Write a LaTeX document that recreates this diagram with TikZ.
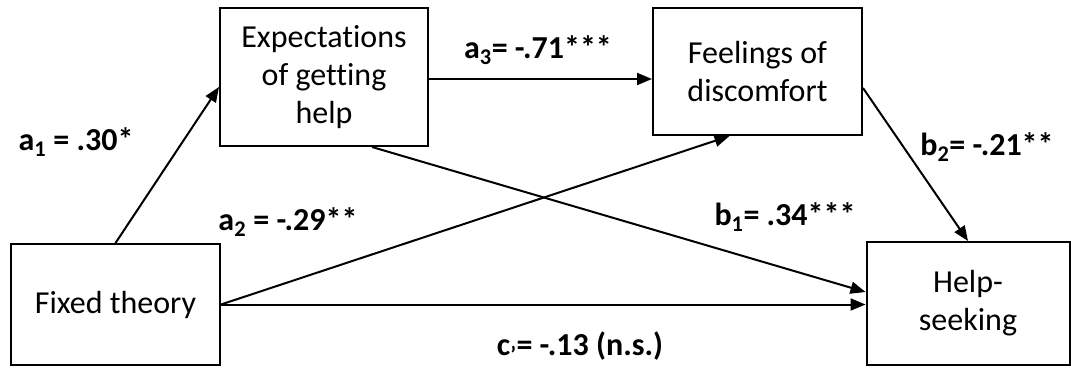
\documentclass[tikz,border=0pt]{standalone}
\usepackage{fontspec}
\setmainfont{Carlito}[Ligatures=NoCommon]
\usetikzlibrary{arrows.meta}
\tikzset{
  box/.style={draw, line width=2pt, align=center, inner sep=0pt,
    font=\fontsize{32}{38}\selectfont},
  path/.style={line width=2pt, -{Triangle[length=15pt,width=12pt]}},
  coef/.style={font=\fontsize{32}{38}\selectfont\bfseries, inner sep=0pt}
}
\begin{document}
\begin{tikzpicture}[x=1pt,y=-1pt]
\useasboundingbox (0,0) rectangle (1071,367);
% variables
\node[box, minimum width=208pt, minimum height=138pt] (exp) at (324,77) {Expectations\\of getting\\help};
\node[box, minimum width=209pt, minimum height=127pt] (feel) at (757.5,71.5) {Feelings of\\discomfort};
\node[box, minimum width=209pt, minimum height=121pt] (fixed) at (115.5,304.5) {Fixed theory};
\node[box, minimum width=203pt, minimum height=123pt] (help) at (968,303.5) {Help-\\seeking};
% paths
\draw[path] (fixed.north) -- ([yshift=-10pt]exp.west);
\draw[path] ([yshift=-2pt]exp.east) -- ([yshift=-2pt]exp.east -| feel.west);
\draw[path] (fixed.east) -- ([xshift=-28pt]feel.south);
\draw[path] ([xshift=48pt]exp.south) -- ([yshift=11.5pt]help.west);
\draw[path] (fixed.east) -- (fixed.east -| help.west);
\draw[path] ([yshift=-16.5pt]feel.east) -- (help.north);
% coefficients
\node[coef] (la1) at (76,142) {a\textsubscript{1} = .30*};
\node[coef] (la3) at (538,50) {a\textsubscript{3}= -.71***};
\node[coef] (la2) at (288,222) {a\textsubscript{2} = -.29**};
\node[coef] (lb1) at (785,217) {b\textsubscript{1}= .34***};
\node[coef] (lb2) at (987,147) {b\textsubscript{2}= -.21**};
\node[coef] (lc) at (580,347) {c\textsubscript{'}= -.13 (n.s.)};
\end{tikzpicture}
\end{document}
